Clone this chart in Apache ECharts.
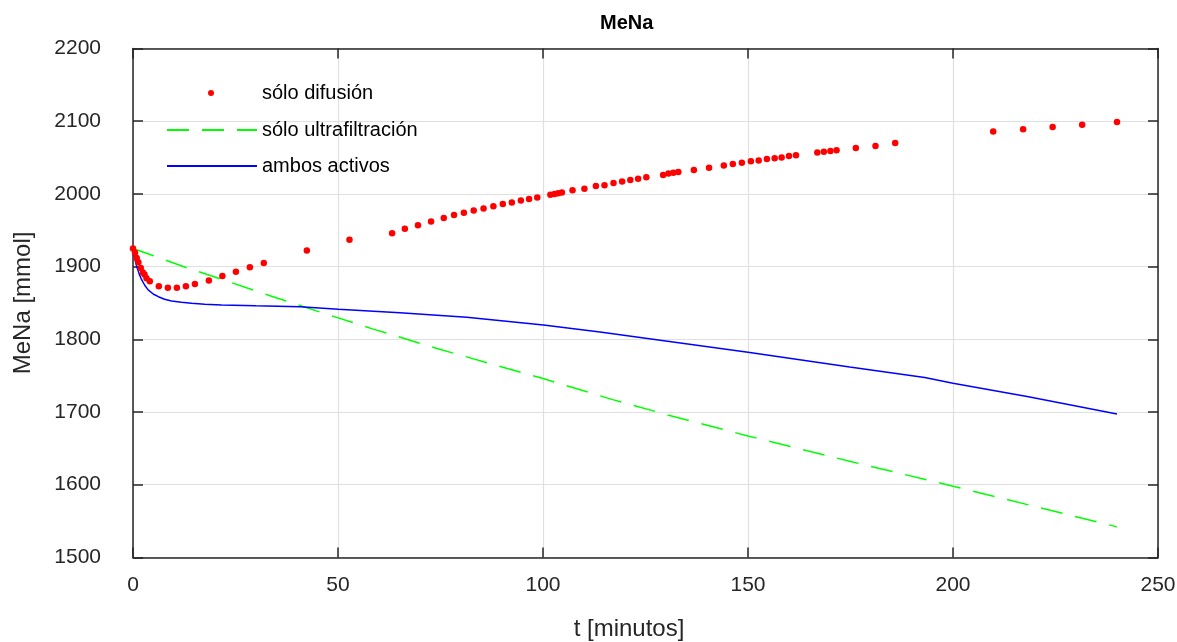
<!DOCTYPE html>
<html>
<head>
<meta charset="utf-8">
<title>MeNa</title>
<script src="https://cdn.jsdelivr.net/npm/echarts@6/dist/echarts.min.js"></script>
<style>
  html, body { margin: 0; padding: 0; background: #ffffff; }
  #chart { width: 1177px; height: 642px; }
</style>
</head>
<body>
<div id="chart"></div>
<script>
// Sodium mass (MeNa) over time for three modes of operation.

// sólo difusión: sampled points [t (min), MeNa (mmol)]
const difusionT = [0, 0.5, 0.9, 1.3, 1.9, 2.4, 2.8, 3.3, 4.1, 6.3, 8.5, 10.7, 12.9, 15.1, 18.5, 21.8, 25.1, 28.5, 31.9,
  42.4, 52.8, 63.2, 66.3, 69.5, 72.7, 75.8, 78.3, 80.7, 83.1, 85.5, 87.9, 90.2, 92.4, 94.6, 96.6, 98.6,
  101.8, 102.8, 103.7, 104.6, 107.2, 110.1, 112.9, 115.0, 117.2, 119.3, 121.3, 123.2, 125.2,
  129.3, 130.6, 131.8, 133.0, 136.8, 140.5, 144.1, 146.3, 148.5, 150.7, 152.6, 154.6, 156.5, 158.2, 160.0, 161.7,
  166.9, 168.5, 170.1, 171.6, 176.3, 181.1, 185.9, 209.8, 217.1, 224.3, 231.5, 240.0];
const difusionV = [1925, 1919, 1912, 1906, 1898, 1892, 1889, 1884, 1880, 1873, 1871, 1871, 1873, 1876, 1881, 1887, 1893, 1899, 1905,
  1922, 1937, 1946, 1952, 1957, 1962, 1967, 1971, 1974, 1977, 1980, 1983, 1986, 1988, 1991, 1993, 1995,
  1999, 2000, 2001, 2002, 2005, 2007, 2011, 2012, 2015, 2017, 2019, 2021, 2023,
  2026, 2028, 2029, 2030, 2033, 2036, 2039, 2041, 2043, 2045, 2046, 2048, 2049, 2050, 2052, 2053,
  2057, 2058, 2059, 2060, 2063, 2066, 2070, 2086, 2089, 2092, 2095, 2099];

// sólo ultrafiltración
const ultraT = [0, 5, 13.1, 21.6, 33.4, 46.4, 58.6, 75, 100, 117, 130.4, 150, 175, 200, 220, 240];
const ultraV = [1925, 1915, 1898.5, 1882.5, 1860, 1836, 1814, 1786, 1746, 1717, 1696, 1667, 1632, 1598, 1570, 1542];

// ambos activos
const ambosT = [0, 0.4, 0.9, 1.5, 2.1, 2.9, 3.7, 5.0, 6.2, 7.7, 9.4, 11.8, 14.3, 17.5, 21.6, 30, 40.7, 50.1, 65.1, 81.4, 100.1, 113.9, 150, 174.8, 193.1, 200, 218.4, 240];
const ambosV = [1925, 1912, 1900, 1890, 1882, 1874, 1868, 1862, 1858.6, 1855, 1852.7, 1851, 1849.5, 1848.3, 1847.2, 1846, 1844.8, 1841.3, 1836.6, 1830.3, 1819.7, 1810.2, 1782.3, 1761.9, 1747.4, 1739.5, 1720.9, 1697.2];

const seriesNames = ['sólo difusión', 'sólo ultrafiltración', 'ambos activos'];
const xTicks = { min: 0, max: 250, interval: 50 };
const yTicks = { min: 1500, max: 2200, interval: 100 };

const zip = (a, b) => a.map((v, i) => [v, b[i]]);

const FONT = '"Liberation Sans", Arial, Helvetica, sans-serif';
const AXIS_COLOR = '#262626';
const plainNumber = (v) => String(v);

// Frame axes on the top and right edges: line and inward ticks only.
const boxAxis = (extra) => Object.assign({
  type: 'value',
  axisLine: { show: true, onZero: false, lineStyle: { color: AXIS_COLOR, width: 1.5 } },
  axisTick: { show: true, inside: true, length: 10, lineStyle: { color: AXIS_COLOR, width: 1.5 } },
  axisLabel: { show: false },
  splitLine: { show: false }
}, extra);

const legendText = { fontFamily: FONT, fontSize: 20, color: '#000000' };
const legendBase = {
  orient: 'vertical',
  padding: 0,
  selectedMode: false
};

const chart = echarts.init(document.getElementById('chart'), null, { renderer: 'canvas' });

chart.setOption({
  backgroundColor: '#ffffff',
  animation: false,
  title: {
    text: 'MeNa',
    left: 595,
    top: 8,
    textStyle: { fontFamily: FONT, fontSize: 20, fontWeight: 'bold', color: '#000000' }
  },
  legend: [
    Object.assign({}, legendBase, {
      left: 208, top: 83, itemWidth: 6, itemHeight: 6,
      textStyle: Object.assign({}, legendText, { padding: [0, 0, 8, 43] }),
      data: [{ name: seriesNames[0], icon: 'circle' }]
    }),
    Object.assign({}, legendBase, {
      left: 166, top: 120, itemWidth: 90, itemHeight: 14,
      itemStyle: { opacity: 0 },
      textStyle: Object.assign({}, legendText, { padding: [0, 0, 4, 0] }),
      data: [seriesNames[1]]
    }),
    Object.assign({}, legendBase, {
      left: 166, top: 156, itemWidth: 90, itemHeight: 14,
      itemStyle: { opacity: 0 },
      textStyle: Object.assign({}, legendText, { padding: [0, 0, 4, 0] }),
      data: [seriesNames[2]]
    })
  ],
  grid: { left: 133, right: 19, top: 48.5, bottom: 84.6, containLabel: false, outerBoundsMode: 'none' },
  xAxis: [
    {
      type: 'value',
      min: xTicks.min, max: xTicks.max, interval: xTicks.interval,
      name: 't [minutos]',
      nameLocation: 'middle',
      nameGap: 60,
      nameTextStyle: { fontFamily: FONT, fontSize: 24, color: AXIS_COLOR, padding: [0, 33, 0, 0] },
      axisLine: { show: true, onZero: false, lineStyle: { color: AXIS_COLOR, width: 1.5 } },
      axisTick: { show: true, inside: true, length: 10, lineStyle: { color: AXIS_COLOR, width: 1.5 } },
      axisLabel: { fontFamily: FONT, fontSize: 21, color: AXIS_COLOR, margin: 17, formatter: plainNumber },
      splitLine: { show: true, lineStyle: { color: '#e0e0e0', width: 1.2 } }
    },
    boxAxis({ position: 'top', min: xTicks.min, max: xTicks.max, interval: xTicks.interval })
  ],
  yAxis: [
    {
      type: 'value',
      position: 'left',
      min: yTicks.min, max: yTicks.max, interval: yTicks.interval,
      name: 'MeNa [mmol]',
      nameLocation: 'middle',
      nameGap: 98,
      nameTextStyle: { fontFamily: FONT, fontSize: 24, color: AXIS_COLOR },
      axisLine: { show: true, onZero: false, lineStyle: { color: AXIS_COLOR, width: 1.5 } },
      axisTick: { show: true, inside: true, length: 10, lineStyle: { color: AXIS_COLOR, width: 1.5 } },
      axisLabel: { fontFamily: FONT, fontSize: 21, color: AXIS_COLOR, margin: 32, formatter: plainNumber },
      splitLine: { show: true, lineStyle: { color: '#e0e0e0', width: 1.2 } }
    },
    boxAxis({ position: 'right', min: yTicks.min, max: yTicks.max, interval: yTicks.interval })
  ],
  series: [
    {
      name: seriesNames[0],
      type: 'scatter',
      data: zip(difusionT, difusionV),
      symbol: 'circle',
      symbolSize: 6.5,
      itemStyle: { color: '#ff0000', opacity: 1 },
      z: 4
    },
    {
      name: seriesNames[1],
      type: 'line',
      data: zip(ultraT, ultraV),
      symbol: 'none',
      lineStyle: { color: '#00ff00', width: 1.5, type: [22, 13] },
      itemStyle: { color: '#00ff00' },
      z: 3
    },
    {
      name: seriesNames[2],
      type: 'line',
      data: zip(ambosT, ambosV),
      symbol: 'none',
      lineStyle: { color: '#0000ff', width: 1.5 },
      itemStyle: { color: '#0000ff' },
      z: 3
    }
  ]
});
</script>
</body>
</html>
